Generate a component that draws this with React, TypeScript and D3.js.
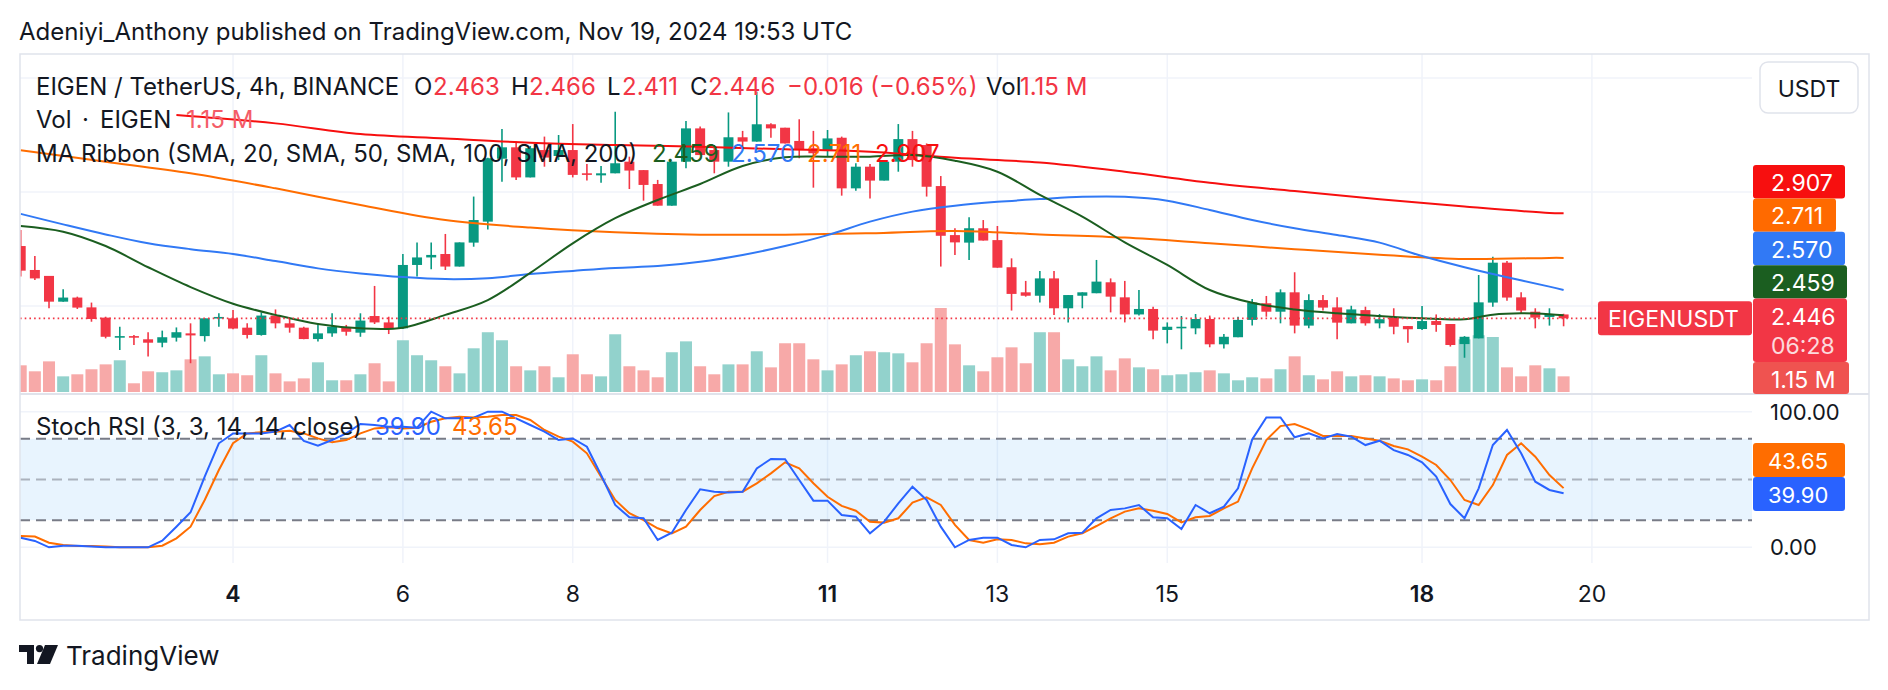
import React from 'react';
import * as d3 from 'd3';

const W = 1888;
const H = 690;
const FONT = 'Inter, "Noto Sans", sans-serif';
const TEXT = '#131722';
const UP = '#089981';
const DOWN = '#f23645';

// EIGEN/USDT 4h bars, bar 0 = Nov 1 12:00 UTC
const opens = [
  2.763, 2.658, 2.632, 2.519, 2.537, 2.494, 2.449, 2.363, 2.368, 2.354,
  2.339, 2.361, 2.380, 2.368, 2.446, 2.446, 2.405, 2.373, 2.458, 2.424,
  2.405, 2.355, 2.380, 2.406, 2.383, 2.456, 2.428, 2.402, 2.680, 2.713,
  2.728, 2.673, 2.778, 2.870, 3.146, 3.196, 3.064, 3.184, 3.158, 3.184,
  3.082, 3.073, 3.082, 3.133, 3.096, 3.035, 2.940, 3.133, 3.279, 3.184,
  3.133, 3.240, 3.221, 3.297, 3.282, 3.224, 3.192, 3.184, 3.238, 3.016,
  3.111, 3.050, 3.133, 3.232, 3.206, 3.026, 2.811, 2.778, 2.841, 2.789,
  2.670, 2.560, 2.545, 2.621, 2.490, 2.545, 2.556, 2.604, 2.538, 2.463,
  2.487, 2.395, 2.402, 2.402, 2.443, 2.332, 2.363, 2.439, 2.512, 2.475,
  2.560, 2.414, 2.526, 2.494, 2.424, 2.482, 2.424, 2.450, 2.412, 2.399,
  2.434, 2.421, 2.333, 2.358, 2.515, 2.690, 2.538, 2.475, 2.452, 2.463,
];
const highs = [
  2.833, 2.719, 2.632, 2.573, 2.541, 2.515, 2.453, 2.409, 2.373, 2.385,
  2.392, 2.406, 2.424, 2.446, 2.468, 2.482, 2.424, 2.472, 2.485, 2.446,
  2.409, 2.424, 2.468, 2.417, 2.468, 2.588, 2.453, 2.728, 2.779, 2.779,
  2.816, 2.779, 2.980, 3.150, 3.276, 3.221, 3.202, 3.243, 3.250, 3.298,
  3.123, 3.114, 3.352, 3.155, 3.096, 3.053, 3.133, 3.311, 3.287, 3.206,
  3.349, 3.268, 3.440, 3.301, 3.282, 3.319, 3.268, 3.272, 3.243, 3.126,
  3.123, 3.140, 3.298, 3.268, 3.213, 3.070, 2.841, 2.889, 2.877, 2.851,
  2.709, 2.610, 2.654, 2.654, 2.548, 2.560, 2.702, 2.621, 2.610, 2.570,
  2.497, 2.428, 2.456, 2.465, 2.458, 2.377, 2.453, 2.531, 2.544, 2.573,
  2.648, 2.551, 2.548, 2.538, 2.501, 2.497, 2.465, 2.490, 2.412, 2.500,
  2.463, 2.421, 2.368, 2.636, 2.716, 2.697, 2.560, 2.490, 2.490, 2.466,
];
const lows = [
  2.629, 2.614, 2.490, 2.519, 2.487, 2.431, 2.358, 2.307, 2.329, 2.278,
  2.319, 2.344, 2.249, 2.344, 2.409, 2.398, 2.358, 2.370, 2.402, 2.383,
  2.354, 2.344, 2.365, 2.370, 2.365, 2.421, 2.377, 2.399, 2.629, 2.661,
  2.658, 2.673, 2.760, 2.836, 3.045, 3.053, 3.064, 3.111, 3.140, 3.064,
  3.050, 3.041, 3.082, 3.013, 2.962, 2.940, 2.940, 3.104, 3.162, 3.082,
  3.111, 3.196, 3.221, 3.238, 3.213, 3.148, 3.019, 3.155, 2.984, 3.006,
  2.972, 3.050, 3.089, 3.111, 2.980, 2.673, 2.724, 2.702, 2.787, 2.668,
  2.480, 2.541, 2.515, 2.461, 2.428, 2.490, 2.556, 2.472, 2.428, 2.458,
  2.354, 2.336, 2.310, 2.376, 2.319, 2.314, 2.363, 2.414, 2.453, 2.424,
  2.380, 2.402, 2.480, 2.354, 2.424, 2.414, 2.402, 2.376, 2.339, 2.395,
  2.387, 2.322, 2.273, 2.358, 2.497, 2.523, 2.468, 2.402, 2.414, 2.411,
];
const closes = [
  2.655, 2.621, 2.519, 2.537, 2.493, 2.443, 2.365, 2.368, 2.361, 2.339,
  2.363, 2.385, 2.371, 2.446, 2.452, 2.401, 2.373, 2.458, 2.424, 2.405,
  2.355, 2.380, 2.409, 2.387, 2.436, 2.428, 2.402, 2.680, 2.713, 2.724,
  2.673, 2.779, 2.877, 3.148, 3.196, 3.064, 3.192, 3.151, 3.184, 3.075,
  3.075, 3.082, 3.126, 3.094, 3.031, 2.940, 3.133, 3.279, 3.162, 3.133,
  3.240, 3.221, 3.297, 3.279, 3.213, 3.187, 3.170, 3.235, 3.016, 3.111,
  3.050, 3.133, 3.232, 3.140, 3.023, 2.808, 2.779, 2.841, 2.787, 2.668,
  2.553, 2.545, 2.621, 2.490, 2.548, 2.560, 2.607, 2.541, 2.463, 2.487,
  2.392, 2.409, 2.409, 2.443, 2.332, 2.365, 2.439, 2.515, 2.475, 2.560,
  2.414, 2.526, 2.493, 2.427, 2.485, 2.424, 2.442, 2.409, 2.398, 2.434,
  2.417, 2.329, 2.365, 2.516, 2.690, 2.537, 2.480, 2.449, 2.462, 2.446,
];
// volume in millions of EIGEN
const volumes = [
  1.96, 1.52, 2.25, 1.15, 1.30, 1.67, 2.03, 2.33, 0.64, 1.52,
  1.45, 1.59, 2.40, 2.62, 1.30, 1.37, 1.23, 2.70, 1.37, 0.78,
  1.00, 2.18, 0.86, 0.86, 1.30, 2.11, 0.78, 3.80, 2.70, 2.33,
  1.89, 1.37, 3.21, 4.39, 3.80, 1.89, 1.59, 1.89, 1.08, 2.77,
  1.30, 1.15, 4.24, 1.89, 1.59, 1.08, 2.92, 3.72, 1.89, 1.30,
  2.03, 2.03, 2.99, 1.81, 3.58, 3.58, 2.40, 1.59, 2.03, 2.70,
  2.99, 2.92, 2.84, 2.18, 3.58, 6.17, 3.50, 1.96, 1.52, 2.55,
  3.28, 2.11, 4.39, 4.39, 2.40, 1.89, 2.62, 1.59, 2.47, 1.81,
  1.67, 1.23, 1.30, 1.45, 1.59, 1.37, 0.86, 1.08, 1.00, 1.67,
  2.62, 1.23, 0.93, 1.52, 1.15, 1.23, 1.15, 1.00, 0.86, 0.93,
  0.86, 1.89, 3.87, 4.17, 4.04, 1.81, 1.15, 1.96, 1.74, 1.15,
];
const stochK = [
  7.1, 4.7, 0, 1.2, 1.2, 0.5, 0, 0, 0, 0,
  4.9, 15.2, 25.8, 52.1, 76.7, 84.0, 84.0, 84.0, 85.3, 90.2,
  78.4, 74.9, 79.1, 84.0, 90.9, 90.2, 88.9, 88.9, 88.2, 100,
  95.1, 95.1, 95.6, 100, 100, 95.1, 90.2, 85.3, 79.1, 80.3,
  74.2, 53.3, 31.2, 22.1, 21.4, 5.4, 10.8, 27.5, 42.8, 41.0,
  40.5, 41.0, 58.2, 65.1, 64.9, 49.6, 34.4, 34.4, 23.8, 22.6,
  10.3, 18.9, 32.4, 44.7, 34.9, 15.2, 0, 5.4, 7.1, 7.1,
  1.7, 0, 5.4, 5.9, 10.3, 10.8, 21.4, 27.5, 28.7, 31.2,
  22.1, 21.4, 13.5, 31.2, 25.1, 30.0, 43.5, 79.6, 95.8, 95.8,
  81.1, 84.0, 80.3, 83.5, 81.6, 75.4, 78.6, 71.7, 68.1, 62.7,
  52.1, 31.9, 21.4, 43.5, 75.4, 86.5, 69.3, 48.4, 42.3, 39.9,
];
const stochD = [
  8.4, 7.9, 3.4, 1.7, 1.0, 1.0, 0.5, 0, 0, 0,
  1.2, 6.6, 15.2, 34.9, 57.0, 76.7, 84.0, 84.8, 85.3, 86.0,
  84.0, 80.3, 77.4, 79.1, 84.0, 87.7, 88.5, 87.7, 88.2, 92.6,
  95.1, 96.3, 95.8, 96.3, 97.5, 97.5, 93.9, 86.5, 81.6, 77.9,
  69.3, 52.1, 34.9, 25.1, 20.1, 14.0, 10.3, 15.2, 27.5, 37.8,
  41.0, 41.0, 47.2, 54.5, 62.7, 58.2, 47.2, 37.3, 30.5, 27.0,
  18.9, 18.2, 21.4, 32.9, 36.9, 31.2, 16.5, 5.4, 3.4, 5.9,
  5.4, 2.9, 2.2, 3.4, 7.9, 10.3, 15.7, 21.4, 26.3, 28.7,
  27.0, 24.6, 18.4, 22.1, 23.1, 28.7, 33.7, 58.2, 79.1, 89.4,
  90.9, 87.0, 82.1, 82.1, 82.1, 80.3, 78.6, 74.7, 72.2, 66.8,
  60.7, 49.6, 34.9, 31.2, 45.9, 68.1, 76.7, 66.8, 53.3, 43.65,
];

// moving averages as [bar, value]
const sma20: [number, number][] = [
  [0, 2.851], [3, 2.826], [6, 2.763], [9, 2.670], [12, 2.583], [15, 2.510], [18, 2.461],
  [21, 2.421], [24, 2.402], [27, 2.405], [30, 2.461], [33, 2.526], [36, 2.645], [39, 2.775],
  [42, 2.885], [45, 2.965], [48, 3.035], [51, 3.114], [54, 3.152], [57, 3.155], [60, 3.155],
  [63, 3.162], [66, 3.137], [69, 3.089], [72, 2.987], [75, 2.892], [78, 2.779], [81, 2.680],
  [84, 2.570], [87, 2.514], [90, 2.485], [93, 2.468], [96, 2.456], [99, 2.446], [102, 2.442],
  [104, 2.462], [106, 2.468], [108, 2.464], [109, 2.459],
];
const sma50: [number, number][] = [
  [0, 2.904], [3, 2.858], [6, 2.814], [9, 2.775], [12, 2.749], [15, 2.728], [18, 2.697],
  [21, 2.665], [24, 2.643], [27, 2.627], [30, 2.618], [33, 2.622], [36, 2.640], [39, 2.654],
  [42, 2.667], [45, 2.675], [48, 2.694], [51, 2.724], [54, 2.763], [57, 2.811], [60, 2.870],
  [63, 2.914], [66, 2.940], [69, 2.957], [72, 2.969], [75, 2.979], [78, 2.979], [81, 2.962],
  [84, 2.921], [87, 2.877], [90, 2.841], [93, 2.811], [96, 2.778], [99, 2.719], [102, 2.670],
  [105, 2.626], [108, 2.585], [109, 2.570],
];
const sma100: [number, number][] = [
  [0, 3.183], [6, 3.133], [12, 3.082], [18, 3.016], [24, 2.943], [30, 2.877], [36, 2.844],
  [42, 2.823], [48, 2.813], [54, 2.813], [60, 2.819], [66, 2.829], [72, 2.814], [78, 2.800],
  [84, 2.775], [90, 2.749], [96, 2.725], [102, 2.706], [108, 2.711], [109, 2.711],
];
const sma200: [number, number][] = [
  [11, 3.338], [18, 3.301], [24, 3.254], [30, 3.235], [36, 3.216], [42, 3.206], [48, 3.199],
  [54, 3.187], [60, 3.177], [66, 3.150], [72, 3.129], [78, 3.089], [84, 3.041], [90, 3.004],
  [96, 2.968], [102, 2.936], [108, 2.908], [109, 2.907],
];

const dayLabels = ['4', '6', '8', '11', '13', '15', '18', '20'];
const dayBars = [15, 27, 39, 57, 69, 81, 99, 111];
const boldDays = ['4', '11', '18'];
const priceGrid = [3.5, 3.0, 2.5];

const lastBar = opens.length - 1;

// layout
const L = 20;
const PR = 1752; // right edge of plotting area
const FR = 1869; // right edge of frame
const TOP = 54;
const SEP = 394;
const BOT = 563;

const x = d3.scaleLinear().domain([0, lastBar]).range([20.7, 1563.6]);
const y = d3.scaleLinear().domain([2.5, 3.5]).range([306, 78]);
const yVol = d3.scaleLinear().domain([0, d3.max(volumes) as number]).range([392, 308]);
const yS = d3.scaleLinear().domain([0, 100]).range([547.3, 411.7]);

const maLine = d3
  .line<[number, number]>()
  .x((d) => x(d[0]))
  .y((d) => y(d[1]))
  .curve(d3.curveCatmullRom.alpha(0.5));

const stLine = d3
  .line<number>()
  .x((_, i) => x(i))
  .y((d) => yS(d));

const maSeries = [
  { data: sma200, color: '#f70f0f' },
  { data: sma100, color: '#ff6d00' },
  { data: sma50, color: '#3179f5' },
  { data: sma20, color: '#1b5e20' },
];

const fmt = d3.format('.3f');

function Logo({ tx, ty }: { tx: number; ty: number }) {
  return (
    <g transform={`translate(${tx},${ty})`} fill={TEXT}>
      <path d="M0 0 H15 V19 H8 V7 H0 Z" />
      <circle cx={20.5} cy={3.6} r={3.6} />
      <path d="M26 0 H39 L31 19 H18 Z" />
    </g>
  );
}

function PriceTag({ top, h, w, fill, label, sub }: { top: number; h: number; w: number; fill: string; label: string; sub?: string }) {
  return (
    <g>
      <rect x={PR + 1} y={top} width={w} height={h} rx={3} fill={fill} />
      <text x={1771} y={top + 26} fontSize={23} fill="#fff">{label}</text>
      {sub && (
        <text x={1771} y={top + 55} fontSize={23} fill="#fff" opacity={0.82}>{sub}</text>
      )}
    </g>
  );
}

export default function App() {
  const lastClose = closes[lastBar];
  const prevClose = closes[lastBar - 1];
  const change = lastClose - prevClose;
  const lastVol = volumes[lastBar];

  return (
    <svg
      width={W}
      height={H}
      style={{ position: 'absolute', left: 0, top: 0, background: '#fff' }}
      fontFamily={FONT}
    >
      <defs>
        <clipPath id="main">
          <rect x={L} y={TOP} width={PR - L} height={SEP - TOP} />
        </clipPath>
        <clipPath id="osc">
          <rect x={L} y={SEP + 1} width={PR - L} height={BOT - SEP - 1} />
        </clipPath>
      </defs>
      <rect width={W} height={H} fill="#fff" />

      <text x={19} y={40} fontSize={24} fill={TEXT}>
        Adeniyi_Anthony published on TradingView.com, Nov 19, 2024 19:53 UTC
      </text>

      {/* grid */}
      {dayBars.map((b) => (
        <line key={b} x1={x(b)} x2={x(b)} y1={TOP} y2={BOT} stroke="#f0f3fa" strokeWidth={1.5} />
      ))}
      {priceGrid.map((p) => (
        <line key={p} x1={L} x2={PR} y1={y(p)} y2={y(p)} stroke="#f0f3fa" strokeWidth={1.5} />
      ))}
      {[100, 0].map((v) => (
        <line key={v} x1={L} x2={PR} y1={yS(v)} y2={yS(v)} stroke="#f0f3fa" strokeWidth={1.5} />
      ))}

      {/* volume + candles + ribbon */}
      <g clipPath="url(#main)">
        {volumes.map((v, i) => (
          <rect
            key={i}
            x={x(i) - 6}
            y={yVol(v)}
            width={12}
            height={yVol(0) - yVol(v)}
            fill={closes[i] >= opens[i] ? '#92d2cc' : '#f7a9a8'}
          />
        ))}
        {opens.map((o, i) => {
          const c = closes[i];
          const col = c >= o ? UP : DOWN;
          const top = y(Math.max(o, c));
          const bh = Math.max(1.6, Math.abs(y(o) - y(c)));
          return (
            <g key={i}>
              <line x1={x(i)} x2={x(i)} y1={y(highs[i])} y2={y(lows[i])} stroke={col} strokeWidth={1.6} />
              <rect x={x(i) - 5} y={top} width={10} height={bh} fill={col} />
            </g>
          );
        })}
        {maSeries.map((s) => (
          <path key={s.color} d={maLine(s.data) ?? ''} fill="none" stroke={s.color} strokeWidth={2} />
        ))}
        <line
          x1={L}
          x2={1598}
          y1={y(lastClose)}
          y2={y(lastClose)}
          stroke={DOWN}
          strokeWidth={1.7}
          strokeDasharray="1.6 3.1"
        />
      </g>

      {/* stoch rsi pane */}
      <rect x={L} y={yS(80)} width={PR - L} height={yS(20) - yS(80)} fill="rgba(33,150,243,0.1)" />
      {[80, 50, 20].map((v) => (
        <line
          key={v}
          x1={L}
          x2={PR}
          y1={yS(v)}
          y2={yS(v)}
          stroke={v === 50 ? 'rgba(120,123,134,0.55)' : '#787b86'}
          strokeWidth={2}
          strokeDasharray="10 6"
        />
      ))}
      <g clipPath="url(#osc)">
        <path d={stLine(stochD) ?? ''} fill="none" stroke="#ff6d00" strokeWidth={2} />
        <path d={stLine(stochK) ?? ''} fill="none" stroke="#2962ff" strokeWidth={2} />
      </g>

      {/* frame */}
      <rect x={L} y={TOP} width={FR - L} height={620 - TOP} fill="none" stroke="#e0e3eb" strokeWidth={1.5} />
      <line x1={L} x2={FR} y1={SEP} y2={SEP} stroke="#e0e3eb" strokeWidth={2} />

      {/* legends */}
      <g fontSize={24} fill={TEXT}>
        <text x={36} y={95}>EIGEN / TetherUS, 4h, BINANCE</text>
        <text x={414} y={95}>O</text>
        <text x={433} y={95} fill={DOWN}>{fmt(opens[lastBar])}</text>
        <text x={511} y={95}>H</text>
        <text x={529} y={95} fill={DOWN}>{fmt(highs[lastBar])}</text>
        <text x={607} y={95}>L</text>
        <text x={622} y={95} fill={DOWN}>{fmt(lows[lastBar])}</text>
        <text x={690} y={95}>C</text>
        <text x={708} y={95} fill={DOWN}>{fmt(lastClose)}</text>
        <text x={787} y={95} fill={DOWN}>
          −{fmt(Math.abs(change))} (−{((Math.abs(change) / prevClose) * 100).toFixed(2)}%)
        </text>
        <text x={986} y={95}>Vol</text>
        <text x={1020} y={95} fill={DOWN}>{lastVol.toFixed(2)} M</text>

        <text x={36} y={128}>Vol</text>
        <text x={82} y={128}>·</text>
        <text x={100} y={128}>EIGEN</text>
        <text x={186} y={128} fill="#f45d68">{lastVol.toFixed(2)} M</text>

        <text x={36} y={161.5}>MA Ribbon (SMA, 20, SMA, 50, SMA, 100, SMA, 200)</text>
        <text x={652} y={161.5} fill="#1b5e20">{fmt(sma20[sma20.length - 1][1])}</text>
        <text x={731} y={161.5} fill="#3179f5">{fmt(sma50[sma50.length - 1][1])}</text>
        <text x={807} y={161.5} fill="#ff6d00">{fmt(sma100[sma100.length - 1][1])}</text>
        <text x={875} y={161.5} fill="#f70f0f">{fmt(sma200[sma200.length - 1][1])}</text>

        <text x={36} y={435}>Stoch RSI (3, 3, 14, 14, close)</text>
        <text x={375} y={435} fill="#2962ff">{stochK[lastBar].toFixed(2)}</text>
        <text x={452} y={435} fill="#ff6d00">{stochD[lastBar].toFixed(2)}</text>
      </g>

      {/* price scale */}
      <rect x={1760} y={62} width={98} height={51} rx={8} fill="#fff" stroke="#e0e3eb" strokeWidth={1.5} />
      <text x={1809} y={96.5} fontSize={23} fill={TEXT} textAnchor="middle">USDT</text>

      <PriceTag top={165} h={33.4} w={92} fill="#f70f0f" label={fmt(sma200[sma200.length - 1][1])} />
      <PriceTag top={198.4} h={33.4} w={83} fill="#ff6a00" label={fmt(sma100[sma100.length - 1][1])} />
      <PriceTag top={231.8} h={33.4} w={92} fill="#3179f5" label={fmt(sma50[sma50.length - 1][1])} />
      <PriceTag top={265.2} h={33.4} w={94} fill="#1b5e20" label={fmt(sma20[sma20.length - 1][1])} />
      <PriceTag top={298.6} h={63.4} w={94} fill={DOWN} label={fmt(lastClose)} sub="06:28" />
      <PriceTag top={362} h={32} w={96} fill="#ef5350" label={`${lastVol.toFixed(2)} M`} />

      <rect x={1598} y={y(lastClose) - 17} width={154} height={34} rx={3} fill={DOWN} />
      <text x={1608} y={y(lastClose) + 9} fontSize={23} fill="#fff">EIGENUSDT</text>

      <text x={1770} y={420} fontSize={22} fill={TEXT}>100.00</text>
      <text x={1770} y={555} fontSize={22} fill={TEXT}>0.00</text>
      <rect x={PR + 1} y={443} width={92} height={34} rx={3} fill="#ff6d00" />
      <text x={1768} y={469} fontSize={22} fill="#fff">{stochD[lastBar].toFixed(2)}</text>
      <rect x={PR + 1} y={477} width={92} height={34} rx={3} fill="#2962ff" />
      <text x={1768} y={503} fontSize={22} fill="#fff">{stochK[lastBar].toFixed(2)}</text>

      {/* time axis */}
      {dayLabels.map((d, i) => (
        <text
          key={d}
          x={x(dayBars[i])}
          y={602}
          fontSize={23}
          textAnchor="middle"
          fill={TEXT}
          fontWeight={boldDays.includes(d) ? 600 : 400}
        >
          {d}
        </text>
      ))}

      <Logo tx={19} ty={645} />
      <text x={66} y={665} fontSize={26} fill={TEXT}>TradingView</text>
    </svg>
  );
}
